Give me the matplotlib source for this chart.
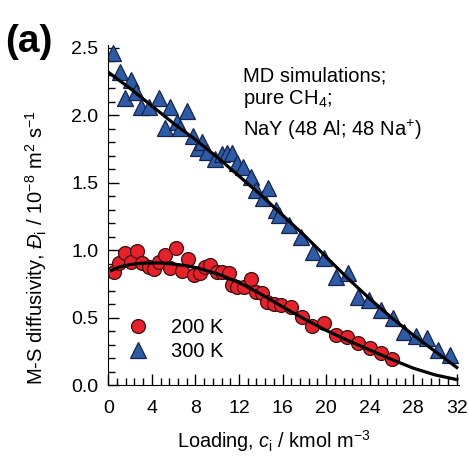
import matplotlib
matplotlib.use("Agg")
import matplotlib.pyplot as plt
from matplotlib.ticker import MultipleLocator, AutoMinorLocator

plt.rcParams['font.family'] = ['Liberation Sans', 'DejaVu Sans']
plt.rcParams['mathtext.fontset'] = 'custom'
plt.rcParams['mathtext.rm'] = 'Liberation Sans'
plt.rcParams['mathtext.it'] = 'Liberation Sans:italic'

# 300 K MD data
x300 = [0.46, 1.10, 1.56, 2.11, 2.57, 3.03, 3.77, 4.69, 5.24, 5.70, 6.34, 6.62, 7.26,
        7.82, 8.28, 8.64, 9.10, 9.84, 10.48, 10.94, 11.40, 11.86, 12.41, 13.06, 13.52,
        14.16, 14.62, 15.36, 15.63, 16.55, 17.66, 18.76, 19.77, 20.87, 21.98, 22.90,
        23.91, 25.01, 26.11, 27.13, 28.23, 29.24, 30.25, 31.36]
y300 = [2.46, 2.32, 2.13, 2.26, 2.17, 2.06, 2.06, 2.13, 1.91, 2.06, 1.95, 1.91, 2.03,
        1.85, 1.76, 1.80, 1.73, 1.68, 1.71, 1.72, 1.72, 1.65, 1.62, 1.54, 1.45,
        1.39, 1.46, 1.30, 1.26, 1.19, 1.10, 0.99, 0.94, 0.80, 0.83, 0.65,
        0.63, 0.56, 0.50, 0.39, 0.36, 0.35, 0.26, 0.22]

# 200 K MD data
x200 = [0.49, 1.01, 1.56, 2.08, 2.64, 3.10, 3.71, 4.17, 4.63, 5.24, 5.70, 6.25, 6.77,
        7.30, 7.85, 8.40, 8.92, 9.38, 9.99, 10.45, 11.06, 11.37, 11.83, 12.44, 13.06,
        13.52, 14.13, 14.59, 15.20, 15.82, 16.74, 17.80, 18.73, 19.80, 20.87, 21.95,
        22.93, 24.03, 25.00, 26.09]
y200 = [0.836, 0.907, 0.977, 0.915, 0.994, 0.903, 0.878, 0.858, 0.915, 0.964, 0.866,
        1.014, 0.846, 0.932, 0.816, 0.829, 0.878, 0.890, 0.840, 0.840, 0.833, 0.742,
        0.725, 0.729, 0.784, 0.692, 0.685, 0.618, 0.600, 0.593, 0.576, 0.507, 0.438,
        0.458, 0.371, 0.358, 0.314, 0.272, 0.240, 0.190]

# fitted curves
xfit = [0, 2, 4, 6, 8, 10, 12, 14, 16, 18, 20, 22, 24, 26, 28, 30, 32]
fit300 = [2.32, 2.20, 2.07, 1.94, 1.82, 1.69, 1.55, 1.41, 1.26, 1.11, 0.95, 0.79,
          0.64, 0.50, 0.37, 0.25, 0.13]
xfit200 = [0.3, 1, 2, 3, 4, 5, 6, 7, 8, 10, 12, 14, 16, 18, 20, 22, 24, 26, 28, 30, 32]
fit200 = [0.85, 0.875, 0.893, 0.903, 0.906, 0.904, 0.897, 0.887, 0.872, 0.825, 0.76,
          0.675, 0.58, 0.49, 0.405, 0.33, 0.26, 0.19, 0.125, 0.075, 0.04]

fig = plt.figure(figsize=(4.69, 4.57), dpi=100)
ax = fig.add_axes([108.3/469, 72/457, (459-108.3)/469, 340/457])

ax.plot(xfit, fit300, color='black', lw=2.3, zorder=3)
ax.plot(xfit200, fit200, color='black', lw=2.3, zorder=3)
ax.plot(x200, y200, 'o', ms=10, mfc='#E8202A', mec='#3a1010', mew=0.9, zorder=2, label='200 K')
ax.plot(x300, y300, '^', ms=11, mfc='#2D5BA8', mec='#14244a', mew=0.9, zorder=2, label='300 K')

ax.set_xlim(0, 32.2)
ax.set_ylim(0, 2.522)
ax.xaxis.set_major_locator(MultipleLocator(4))
ax.xaxis.set_minor_locator(AutoMinorLocator(5))
ax.yaxis.set_major_locator(MultipleLocator(0.5))
ax.yaxis.set_minor_locator(AutoMinorLocator(5))
ax.yaxis.set_major_formatter(matplotlib.ticker.FormatStrFormatter('%.1f'))
ax.tick_params(which='both', direction='in', labelsize=14, color='black')
ax.tick_params(which='major', length=8, width=1)
ax.tick_params(which='minor', length=5, width=1)
ax.tick_params(axis='x', pad=11)
ax.tick_params(axis='y', pad=7)
for s in ['top', 'right']:
    ax.spines[s].set_visible(False)

ax.set_xlabel('Loading, $c_\\mathrm{i}$ / kmol m$^{-3}$', fontsize=14.3)
ax.xaxis.set_label_coords(0.472, -0.128)
ax.set_ylabel('M-S diffusivity, $\\mathit{Đ}_\\mathrm{i}$ / 10$^{-8}$ m$^{2}$ s$^{-1}$', fontsize=14.5)
ax.yaxis.set_label_coords(-0.168, 0.405)

ax.text(0.385, 0.91, 'MD simulations;', transform=ax.transAxes, fontsize=14.5, va='center', ha='left')
ax.text(0.385, 0.84, 'pure CH$_{4}$;', transform=ax.transAxes, fontsize=14.5, va='center', ha='left')
ax.text(0.385, 0.75, 'NaY (48 Al; 48 Na$^{+}$)', transform=ax.transAxes, fontsize=14.5, va='center', ha='left')

fig.text(5/469, 1 - 42/457, '(a)', fontsize=28, fontweight='bold', va='center', ha='left')

leg = ax.legend(loc='upper left', bbox_to_anchor=(0.057, 0.198), frameon=False, fontsize=14.5,
                handlelength=1.0, handletextpad=1.1, borderpad=0, borderaxespad=0,
                labelspacing=0.25)

fig.savefig('out.png', dpi=100)
